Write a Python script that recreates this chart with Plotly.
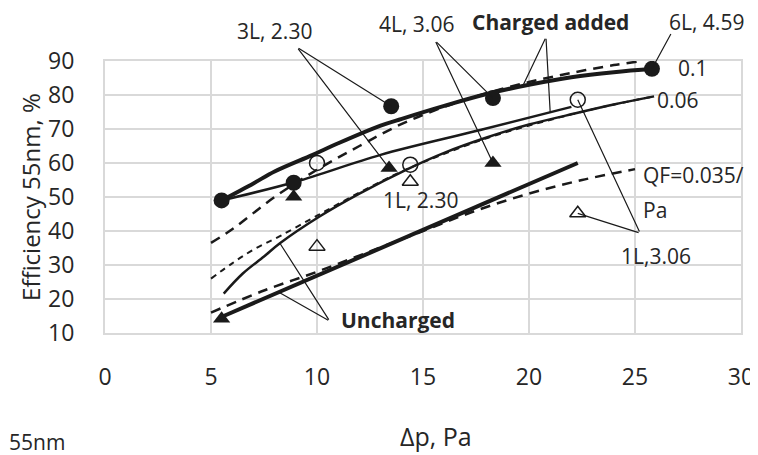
import numpy as np
import plotly.graph_objects as go

# charged added, QF = 0.1 : measured (thick solid) and model (dashed)
top_x = [5.5, 7, 8, 9.8, 11, 13, 14, 16, 18, 20, 22, 24, 25.9]
top_y = [49, 54, 57.5, 62.4, 65.8, 71, 73, 76.8, 80.3, 83, 85.2, 86.7, 87.7]
top_fit_x = [5, 6, 8, 10, 12, 14, 16, 18, 20, 22, 24, 25.1]
top_fit_y = [36.5, 40.5, 50, 58, 65, 71.5, 76.5, 80.5, 83.8, 86.5, 88.8, 89.8]

# charged added, second line
mid_x = [5.5, 9, 13, 17.7, 22.0]
mid_y = [49, 54.5, 62.4, 69.7, 76.5]

# QF = 0.06 : measured (solid) and model (dashed)
c06_x = [5.6, 6.5, 7.5, 8.25, 10.1, 12, 14.2, 16, 18, 20, 22.25, 24, 25.9]
c06_y = [21.6, 27.5, 32.5, 36.4, 44.2, 51, 58, 63, 67.5, 71.3, 74.7, 77.2, 79.6]
c06_fit_x = [5, 6, 7, 8.25, 10, 12, 14, 16, 18, 20, 22, 24, 25.9]
c06_fit_y = [26, 30.5, 34.5, 38.5, 44.5, 51.3, 57.5, 62.7, 67.3, 71, 74.3, 77.2, 79.6]

# uncharged (thick solid) and QF = 0.035/Pa (dashed)
unc_x = [5.6, 22.3]
unc_y = [15, 60]
qf_x = [5, 7.5, 10, 12.5, 15, 17.5, 20, 22.5, 25]
qf_y = [16, 22.5, 28, 34, 40, 46, 51, 55, 58.2]

# measured points
fc_x = [5.5, 8.9, 13.5, 18.3, 25.8]
fc_y = [49, 54.2, 76.7, 79.1, 87.7]
oc_x = [10, 14.4, 22.3]
oc_y = [60, 59.5, 78.6]
ft_x = [5.5, 8.9, 13.4, 18.3]
ft_y = [14.2, 50.1, 58.5, 60]
ot_x = [10, 14.4, 22.3]
ot_y = [35.4, 54.5, 45.2]

INK = "#1a1a1a"
TXT = "#262626"
FONT = "Open Sans"

fig = go.Figure()


def line(x, y, width, dash="solid"):
    fig.add_trace(go.Scatter(x=x, y=y, mode="lines", line_shape="spline",
                             line=dict(color=INK, width=width, dash=dash),
                             showlegend=False, hoverinfo="skip"))


line(top_fit_x, top_fit_y, 2.5, "10px,7px")
line(top_x, top_y, 4)
line(mid_x, mid_y, 2.5)
line(c06_fit_x, c06_fit_y, 2, "6px,5px")
line(c06_x, c06_y, 2.5)
line(qf_x, qf_y, 2.5, "10px,7px")
line(unc_x, unc_y, 4)

fig.add_trace(go.Scatter(x=fc_x, y=fc_y, mode="markers", showlegend=False,
                         marker=dict(symbol="circle", size=16, color=INK)))
fig.add_trace(go.Scatter(x=oc_x, y=oc_y, mode="markers", showlegend=False,
                         marker=dict(symbol="circle-open", size=15, color=INK,
                                     line=dict(width=1.5))))
fig.add_trace(go.Scatter(x=ft_x, y=ft_y, mode="markers", showlegend=False,
                         marker=dict(symbol="triangle-up", size=15, color=INK)))
fig.add_trace(go.Scatter(x=ot_x, y=ot_y, mode="markers", showlegend=False,
                         marker=dict(symbol="triangle-up-open", size=14, color=INK,
                                     line=dict(width=1.5))))


def paper_y(v):
    return (v - 10) / 80


def label(text, x, v, bold=False, size=21, anchor="center"):
    if bold:
        text = "<b>" + text + "</b>"
    fig.add_annotation(text=text, x=x, y=paper_y(v), xref="x", yref="paper",
                       showarrow=False, xanchor=anchor, yanchor="middle", borderpad=0,
                       font=dict(family=FONT, size=size, color=TXT))


def leader(tx, tv, x, v):
    # thin line from label (tx, tv) to a point (x, v) of the data
    fig.add_annotation(text="", x=x, y=v, xref="x", yref="y",
                       ax=tx, ay=tv, axref="x", ayref="y",
                       showarrow=True, arrowhead=0, arrowwidth=1.2,
                       arrowcolor=INK, standoff=0, startstandoff=0)


label("3L, 2.30", 8.0, 98.7)
leader(9.06, 94.0, fc_x[2], fc_y[2])
leader(9.06, 94.0, ft_x[2], ft_y[2])

label("4L, 3.06", 14.7, 100.8)
leader(15.57, 96.0, fc_x[3], fc_y[3])
leader(15.57, 96.0, ft_x[3], ft_y[3])

label("Charged added", 21.0, 101.4, bold=True)
leader(20.8, 97.0, 19.7, float(np.interp(19.7, top_x, top_y)))
leader(20.8, 97.0, 21.0, float(np.interp(21.0, mid_x, mid_y)))

label("6L, 4.59", 28.35, 101.4)
leader(26.73, 98.4, fc_x[4], fc_y[4])

label("0.1", 27.75, 87.8)
label("0.06", 27.05, 78.6)
label("QF=0.035/", 25.35, 56.5, anchor="left")
label("Pa", 25.35, 46.2, anchor="left")
label("1L, 2.30", 14.9, 49.1)

label("1L,3.06", 26.0, 32.6)
leader(25.24, 39.4, oc_x[2], oc_y[2])
leader(25.24, 39.4, ot_x[2], ot_y[2])

label("Uncharged", 13.8, 13.7, bold=True)
leader(10.6, 13.5, 8.2, float(np.interp(8.2, unc_x, unc_y)))
leader(10.6, 13.5, 8.25, float(np.interp(8.25, c06_x, c06_y)))

# axis titles and the clipped caption
fig.add_annotation(text="Efficiency 55nm, %", x=-0.118, y=0.5, xref="paper", yref="paper",
                   textangle=-90, showarrow=False, xanchor="center", yanchor="middle",
                   font=dict(family=FONT, size=24, color=TXT))
fig.add_annotation(text="\u0394p, Pa", x=0.52, y=-0.38, xref="paper", yref="paper",
                   showarrow=False, xanchor="center", yanchor="middle", borderpad=0,
                   font=dict(family=FONT, size=25, color=TXT))
fig.add_annotation(text="55nm", x=-0.152, y=-0.4, xref="paper", yref="paper",
                   xanchor="left", yanchor="middle", showarrow=False, borderpad=0,
                   font=dict(family=FONT, size=21, color=TXT))

grid = "#d9d9d9"
fig.update_xaxes(range=[0, 30], dtick=5, showgrid=True, gridcolor=grid, gridwidth=2,
                 zeroline=False, showline=True, linecolor=grid, linewidth=2, mirror=True,
                 ticks="", ticklabelstandoff=22,
                 tickfont=dict(family=FONT, size=23, color=TXT))
fig.update_yaxes(range=[10, 90], dtick=10, showgrid=True, gridcolor=grid, gridwidth=2,
                 zeroline=False, showline=True, linecolor=grid, linewidth=2, mirror=True,
                 ticks="", ticklabelstandoff=24,
                 tickfont=dict(family=FONT, size=23, color=TXT))

# the page body keeps its 8px default margin: margins are set so the plot
# lands where the reference has it inside the 758x455 window
fig.update_layout(width=758, height=455, margin=dict(l=97, r=25, t=53, b=130),
                  plot_bgcolor="white", paper_bgcolor="white", showlegend=False)

fig.write_html("out.html")
